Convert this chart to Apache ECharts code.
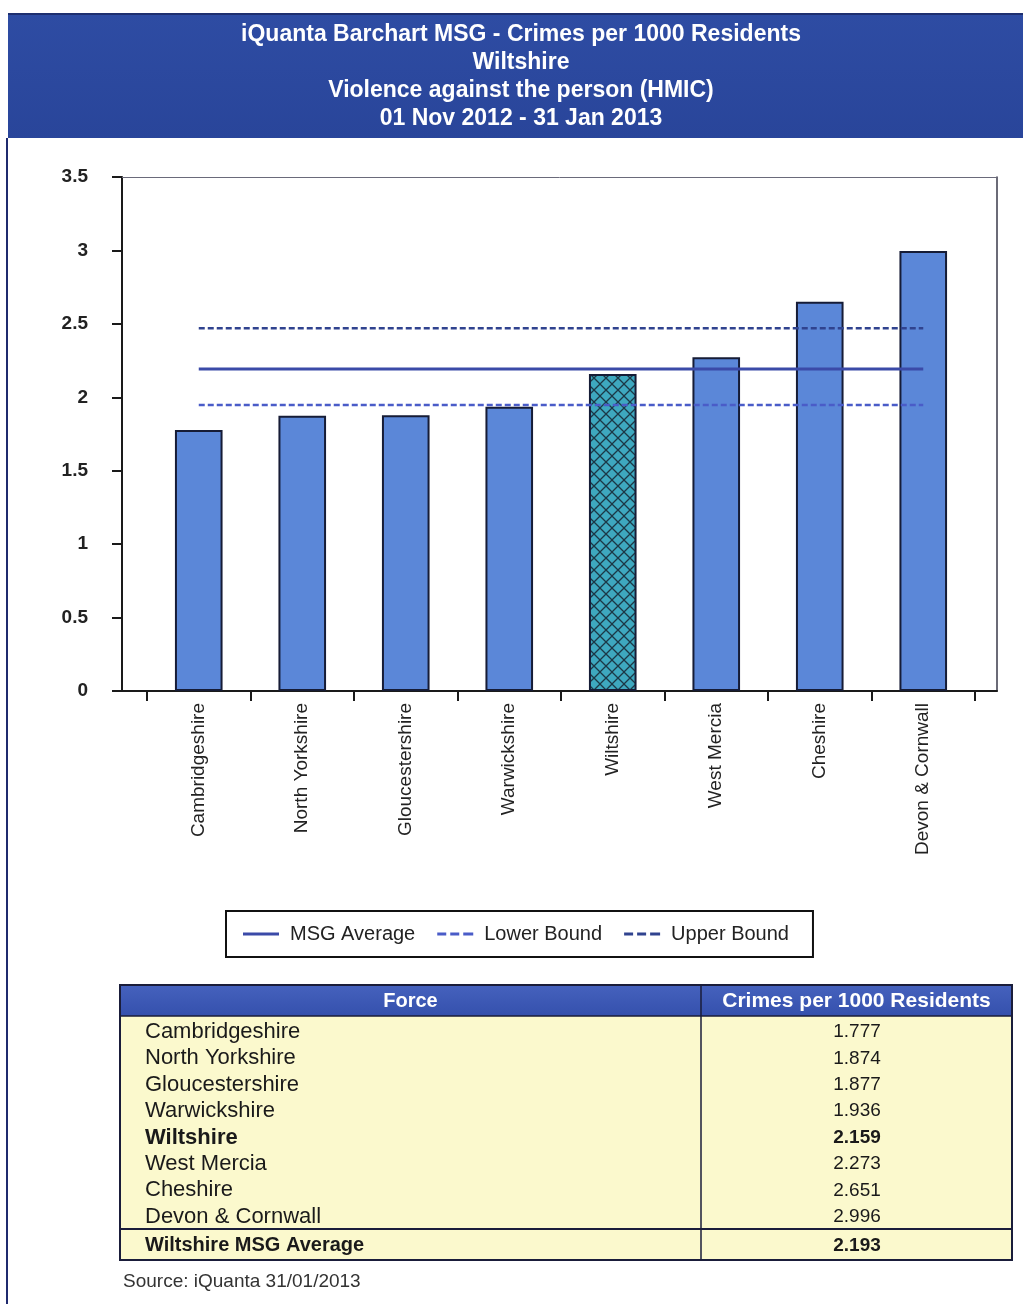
<!DOCTYPE html>
<html>
<head>
<meta charset="utf-8">
<script src="https://cdn.jsdelivr.net/npm/echarts@6/dist/echarts.min.js"></script>
<style>
  html, body { margin: 0; padding: 0; background: #ffffff; }
  #chart { width: 1023px; height: 1304px; }
</style>
</head>
<body>
<div id="chart"></div>
<script>
// ---------- data ----------
var titleLines = [
  'iQuanta Barchart MSG - Crimes per 1000 Residents',
  'Wiltshire',
  'Violence against the person (HMIC)',
  '01 Nov 2012 - 31 Jan 2013'
];
var forces = ['Cambridgeshire', 'North Yorkshire', 'Gloucestershire', 'Warwickshire',
              'Wiltshire', 'West Mercia', 'Cheshire', 'Devon & Cornwall'];
var rates = [1.777, 1.874, 1.877, 1.936, 2.159, 2.273, 2.651, 2.996];
var rateLabels = ['1.777', '1.874', '1.877', '1.936', '2.159', '2.273', '2.651', '2.996'];
var highlightForce = 'Wiltshire';
var msgAverage = 2.193;
var msgAverageLabel = '2.193';
var lowerBound = 1.947;
var upperBound = 2.47;
var yMin = 0, yMax = 3.5, yStep = 0.5;
var seriesNames = ['MSG Average', 'Lower Bound', 'Upper Bound'];
var tableHeaders = ['Force', 'Crimes per 1000 Residents'];
var footerLabel = 'Wiltshire MSG Average';
var sourceText = 'Source: iQuanta 31/01/2013';

// ---------- helpers ----------
function hatchPattern() {
  var c = document.createElement('canvas');
  c.width = 12; c.height = 12;
  var g = c.getContext('2d');
  g.fillStyle = '#3ea8bf';
  g.fillRect(0, 0, 12, 12);
  g.strokeStyle = '#1c3846';
  g.lineWidth = 1.3;
  g.beginPath();
  g.moveTo(-1, -1); g.lineTo(13, 13);
  g.moveTo(13, -1); g.lineTo(-1, 13);
  g.stroke();
  return c;
}
var pattern = hatchPattern();

var barData = rates.map(function (v, i) {
  if (forces[i] === highlightForce) {
    return { value: v, itemStyle: { color: { image: pattern, repeat: 'repeat' } } };
  }
  return v;
});
function flat(v) { return forces.map(function () { return v; }); }

var solidIcon = 'path://M0,0h36v3h-36z';
var dashIcon = 'path://M0,0h9v3h-9z M13,0h9v3h-9z M26,0h10v3h-10z';

// ---------- graphics: title band, table, source ----------
var FONT = 'Liberation Sans, Arial, sans-serif';
var graphics = [];
graphics.push({
  type: 'rect', left: 8, top: 14, z: 0,
  shape: { width: 1015, height: 124 },
  style: { fill: {
    type: 'linear', x: 0, y: 0, x2: 0, y2: 1,
    colorStops: [{ offset: 0, color: '#2e4ca3' }, { offset: 1, color: '#29459a' }]
  } }
});
graphics.push({
  type: 'line', z: 1,
  shape: { x1: 8, y1: 14, x2: 1023, y2: 14 },
  style: { stroke: '#1e2f70', lineWidth: 2 }
});
titleLines.forEach(function (t, i) {
  graphics.push({
    type: 'text', z: 2, x: 521, y: 35 + i * 28,
    style: { text: t, fill: '#ffffff', font: 'bold 23px ' + FONT,
             textAlign: 'center', textVerticalAlign: 'middle' }
  });
});
// left page border
graphics.push({
  type: 'line', z: 1,
  shape: { x1: 7, y1: 138, x2: 7, y2: 1304 },
  style: { stroke: '#1f2a6e', lineWidth: 2 }
});

// table
var tL = 120, tR = 1012, tDiv = 701, hTop = 985, hBot = 1016, fTop = 1229, fBot = 1260;
graphics.push({
  type: 'rect', z: 1, shape: { x: tL, y: hBot, width: tR - tL, height: fBot - hBot },
  style: { fill: '#fbf9cd' }
});
graphics.push({
  type: 'rect', z: 1, shape: { x: tL, y: hTop, width: tR - tL, height: hBot - hTop },
  style: { fill: {
    type: 'linear', x: 0, y: 0, x2: 0, y2: 1,
    colorStops: [{ offset: 0, color: '#4562bd' }, { offset: 1, color: '#3550ad' }]
  } }
});
graphics.push({
  type: 'rect', z: 3, shape: { x: tL, y: hTop, width: tR - tL, height: fBot - hTop },
  style: { fill: null, stroke: '#1a1d3a', lineWidth: 2 }
});
graphics.push({
  type: 'line', z: 3, shape: { x1: tDiv, y1: hTop, x2: tDiv, y2: fBot },
  style: { stroke: '#1a1d3a', lineWidth: 1.5 }
});
graphics.push({
  type: 'line', z: 3, shape: { x1: tL, y1: hBot, x2: tR, y2: hBot },
  style: { stroke: '#1a1d3a', lineWidth: 1.5 }
});
graphics.push({
  type: 'line', z: 3, shape: { x1: tL, y1: fTop, x2: tR, y2: fTop },
  style: { stroke: '#1a1d3a', lineWidth: 2 }
});
graphics.push({
  type: 'text', z: 4, x: (tL + tDiv) / 2, y: (hTop + hBot) / 2 + 1,
  style: { text: tableHeaders[0], fill: '#ffffff', font: 'bold 20px ' + FONT,
           textAlign: 'center', textVerticalAlign: 'middle' }
});
graphics.push({
  type: 'text', z: 4, x: (tDiv + tR) / 2, y: (hTop + hBot) / 2 + 1,
  style: { text: tableHeaders[1], fill: '#ffffff', font: 'bold 21px ' + FONT,
           textAlign: 'center', textVerticalAlign: 'middle' }
});
forces.forEach(function (f, i) {
  var y = 1032 + i * 26.4;
  var bold = f === highlightForce ? 'bold ' : '';
  graphics.push({
    type: 'text', z: 4, x: 145, y: y,
    style: { text: f, fill: '#1a1a1a', font: bold + '22px ' + FONT,
             textAlign: 'left', textVerticalAlign: 'middle' }
  });
  graphics.push({
    type: 'text', z: 4, x: 857, y: y,
    style: { text: rateLabels[i], fill: '#1a1a1a', font: bold + '19px ' + FONT,
             textAlign: 'center', textVerticalAlign: 'middle' }
  });
});
graphics.push({
  type: 'text', z: 4, x: 145, y: (fTop + fBot) / 2 + 1,
  style: { text: footerLabel, fill: '#1a1a1a', font: 'bold 20px ' + FONT,
           textAlign: 'left', textVerticalAlign: 'middle' }
});
graphics.push({
  type: 'text', z: 4, x: 857, y: (fTop + fBot) / 2 + 1,
  style: { text: msgAverageLabel, fill: '#1a1a1a', font: 'bold 19px ' + FONT,
           textAlign: 'center', textVerticalAlign: 'middle' }
});
graphics.push({
  type: 'text', z: 4, x: 123, y: 1282,
  style: { text: sourceText, fill: '#333333', font: '19px ' + FONT,
           textAlign: 'left', textVerticalAlign: 'middle' }
});

// ---------- chart ----------
var chart = echarts.init(document.getElementById('chart'), null, { renderer: 'canvas' });
var axisColor = '#1a1a1a';
var option = {
  backgroundColor: '#ffffff',
  animation: false,
  textStyle: { fontFamily: FONT },
  grid: [
    { left: 147, right: 48, top: 177, bottom: 613, containLabel: false },
    { left: 122, right: 26, top: 177, bottom: 613, containLabel: false }
  ],
  legend: {
    data: [
      { name: seriesNames[0], icon: solidIcon },
      { name: seriesNames[1], icon: dashIcon },
      { name: seriesNames[2], icon: dashIcon }
    ],
    left: 226, top: 911,
    padding: [13, 24, 13, 17],
    itemGap: 22,
    itemWidth: 36, itemHeight: 14,
    borderColor: '#111111', borderWidth: 2,
    textStyle: { fontSize: 20, color: '#222222', fontFamily: FONT, padding: [0, 0, 0, 6] }
  },
  xAxis: [
    {
      type: 'category', gridIndex: 0, data: forces,
      axisLine: { show: true, onZero: false, lineStyle: { color: axisColor, width: 2 } },
      axisTick: { show: true, length: 10, lineStyle: { color: axisColor, width: 2 } },
      axisLabel: { rotate: 90, fontSize: 19, color: '#222222', margin: 12, interval: 0 },
      splitLine: { show: false }
    },
    {
      type: 'value', gridIndex: 1, min: 0, max: 1, position: 'bottom',
      axisLine: { show: true, onZero: false, lineStyle: { color: axisColor, width: 2 } },
      axisTick: { show: false }, axisLabel: { show: false }, splitLine: { show: false }
    },
    {
      type: 'value', gridIndex: 1, min: 0, max: 1, position: 'top',
      axisLine: { show: true, onZero: false, lineStyle: { color: '#6a6a7a', width: 1 } },
      axisTick: { show: false }, axisLabel: { show: false }, splitLine: { show: false }
    }
  ],
  yAxis: [
    {
      type: 'value', gridIndex: 0, min: yMin, max: yMax, interval: yStep, offset: 25,
      axisLine: { show: true, onZero: false, lineStyle: { color: axisColor, width: 2 } },
      axisTick: { show: true, length: 10, lineStyle: { color: axisColor, width: 2 } },
      axisLabel: { fontSize: 19, fontWeight: 'bold', color: '#222222', margin: 34 },
      splitLine: { show: false }
    },
    {
      type: 'value', gridIndex: 1, min: 0, max: 1, position: 'right',
      axisLine: { show: true, onZero: false, lineStyle: { color: '#3a3a4a', width: 1.5 } },
      axisTick: { show: false }, axisLabel: { show: false }, splitLine: { show: false }
    }
  ],
  series: [
    {
      name: 'Crimes per 1000 Residents', type: 'bar', xAxisIndex: 0, yAxisIndex: 0,
      data: barData, barWidth: '46%',
      itemStyle: { color: '#5b87d8', borderColor: '#161c36', borderWidth: 2 },
      z: 2
    },
    {
      name: seriesNames[0], type: 'line', xAxisIndex: 0, yAxisIndex: 0,
      data: flat(msgAverage), symbol: 'none',
      lineStyle: { color: '#3b4aa8', width: 3 }, itemStyle: { color: '#3b4aa8' }, z: 4
    },
    {
      name: seriesNames[1], type: 'line', xAxisIndex: 0, yAxisIndex: 0,
      data: flat(lowerBound), symbol: 'none',
      lineStyle: { color: '#4a5cc8', width: 2.5, type: [6, 3] }, itemStyle: { color: '#4a5cc8' }, z: 4
    },
    {
      name: seriesNames[2], type: 'line', xAxisIndex: 0, yAxisIndex: 0,
      data: flat(upperBound), symbol: 'none',
      lineStyle: { color: '#30438f', width: 2.5, type: [6, 3] }, itemStyle: { color: '#30438f' }, z: 4
    }
  ],
  graphic: graphics
};
chart.setOption(option);
</script>
</body>
</html>
